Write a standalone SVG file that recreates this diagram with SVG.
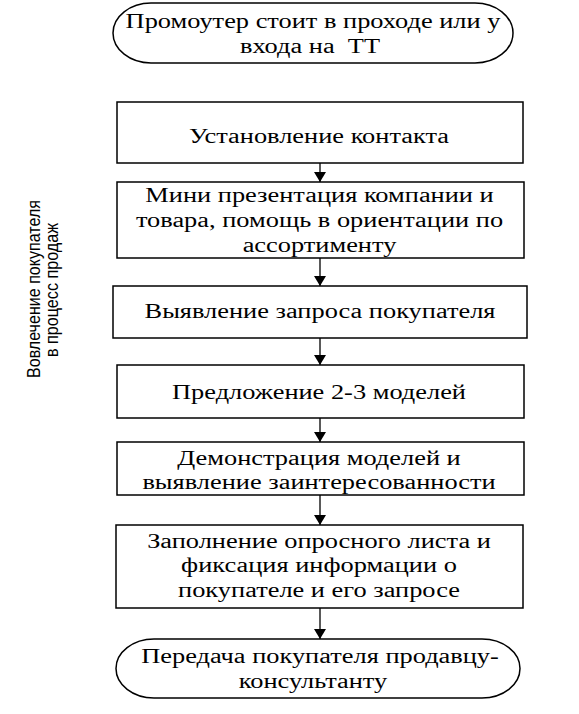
<svg xmlns="http://www.w3.org/2000/svg" width="579" height="714" viewBox="0 0 579 714">
<style>
.box{fill:#fff;stroke:#000;stroke-width:1.5}
.t{font-family:"Liberation Serif","Times New Roman",serif;font-size:20px;fill:#000;text-anchor:middle}
.side{font-family:"Liberation Sans",Arial,sans-serif;font-size:18px;fill:#000;text-anchor:middle}
.c{stroke:#000;stroke-width:1.3;fill:none;marker-end:url(#ah)}
</style>
<defs>
<marker id="ah" markerUnits="userSpaceOnUse" markerWidth="10" markerHeight="12" refX="10" refY="6" orient="auto">
<path d="M0,0 L10,6 L0,12 z" fill="#000"/>
</marker>
</defs>
<rect width="579" height="714" fill="#fff"/>

<g id="side-label">
<text class="side" transform="translate(40 289) rotate(-90)" textLength="178" lengthAdjust="spacingAndGlyphs">Вовлечение покупателя</text>
<text class="side" transform="translate(58 290) rotate(-90)" textLength="134" lengthAdjust="spacingAndGlyphs">в процесс продаж</text>
</g>

<g id="connectors">
<line class="c" x1="320" y1="163" x2="320" y2="182"/>
<line class="c" x1="320" y1="258" x2="320" y2="286"/>
<line class="c" x1="320" y1="338" x2="320" y2="365"/>
<line class="c" x1="320" y1="418" x2="320" y2="442"/>
<line class="c" x1="320" y1="495" x2="320" y2="525"/>
<line class="c" x1="320" y1="608" x2="320" y2="639"/>
</g>

<g id="start">
<rect class="box" x="113" y="3" width="400" height="60" rx="38" ry="30"/>
<text class="t" transform="translate(313 0) scale(1.32 1)"><tspan x="0" y="28">Промоутер стоит в проходе или у</tspan></text>
<text class="t" transform="translate(310 0) scale(1.32 1)" xml:space="preserve"><tspan x="0" y="53">входа на  ТТ</tspan></text>
</g>

<g id="n1">
<rect class="box" x="117" y="102" width="406" height="61"/>
<text class="t" transform="translate(319 0) scale(1.32 1)"><tspan x="0" y="143">Установление контакта</tspan></text>
</g>

<g id="n2">
<rect class="box" x="117" y="182" width="407" height="76"/>
<text class="t" transform="translate(319.5 0) scale(1.32 1)"><tspan x="0" y="202">Мини презентация компании и</tspan><tspan x="0" y="227">товара, помощь в ориентации по</tspan><tspan x="0" y="252">ассортименту</tspan></text>
</g>

<g id="n3">
<rect class="box" x="113" y="286" width="414" height="52"/>
<text class="t" transform="translate(320 0) scale(1.32 1)"><tspan x="0" y="318">Выявление запроса покупателя</tspan></text>
</g>

<g id="n4">
<rect class="box" x="117" y="365" width="407" height="53"/>
<text class="t" transform="translate(319 0) scale(1.32 1)"><tspan x="0" y="399">Предложение 2-3 моделей</tspan></text>
</g>

<g id="n5">
<rect class="box" x="117" y="442" width="407" height="53"/>
<text class="t" transform="translate(319 0) scale(1.32 1)"><tspan x="0" y="465">Демонстрация моделей и</tspan><tspan x="0" y="489">выявление заинтересованности</tspan></text>
</g>

<g id="n6">
<rect class="box" x="116" y="525" width="407" height="83"/>
<text class="t" transform="translate(319 0) scale(1.32 1)"><tspan x="0" y="548">Заполнение опросного листа и</tspan><tspan x="0" y="572">фиксация информации о</tspan><tspan x="0" y="597">покупателе и его запросе</tspan></text>
</g>

<g id="end">
<rect class="box" x="116" y="639" width="404" height="59" rx="38" ry="29.5"/>
<text class="t" transform="translate(320 0) scale(1.32 1)"><tspan x="0" y="663">Передача покупателя продавцу-</tspan></text>
<text class="t" transform="translate(313 0) scale(1.32 1)"><tspan x="0" y="688">консультанту</tspan></text>
</g>
</svg>
